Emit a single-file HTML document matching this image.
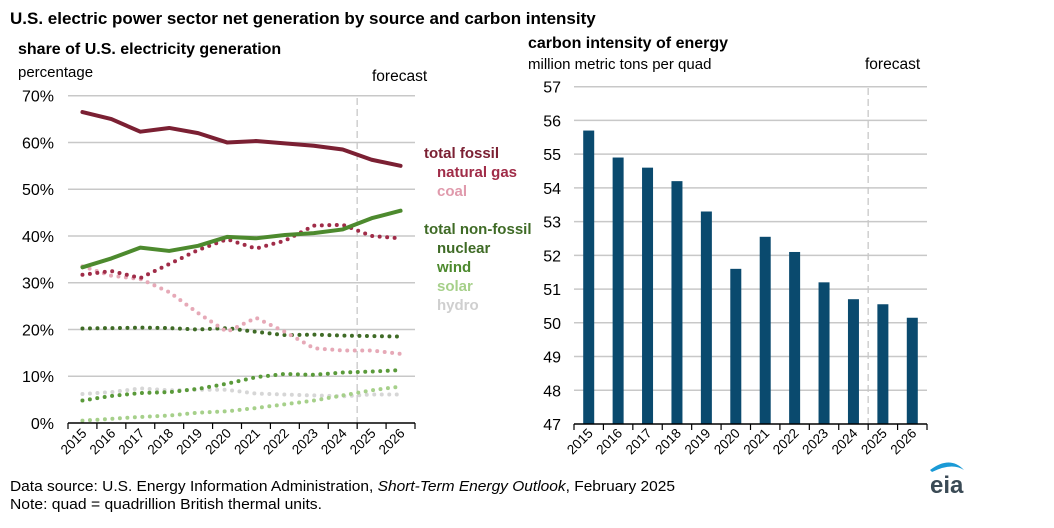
<!DOCTYPE html>
<html><head><meta charset="utf-8"><style>
body{margin:0;background:#fff;}
svg text{font-family:"Liberation Sans",Arial,sans-serif;}
</style></head><body>
<svg id="c" width="1054" height="523" xmlns="http://www.w3.org/2000/svg">
<text x="10" y="24" font-size="17" font-weight="bold" fill="#000">U.S. electric power sector net generation by source and carbon intensity</text>
<text x="18" y="54" font-size="16" font-weight="bold">share of U.S. electricity generation</text>
<text x="18" y="77" font-size="15">percentage</text>
<text x="528" y="48" font-size="16" font-weight="bold">carbon intensity of energy</text>
<text x="528" y="69" font-size="15">million metric tons per quad</text>
<text x="372" y="81" font-size="15.5">forecast</text>
<text x="865" y="69" font-size="15.5">forecast</text>
<g id="left"></g><g id="right"></g>
<text x="10" y="491" font-size="15" textLength="665" lengthAdjust="spacingAndGlyphs">Data source: U.S. Energy Information Administration, <tspan font-style="italic">Short-Term Energy Outlook</tspan>, February 2025</text>
<text x="10" y="509" font-size="15" textLength="312" lengthAdjust="spacingAndGlyphs">Note: quad = quadrillion British thermal units.</text>
<g>
<path d="M930 470 Q950 455 964 470 Q952 462 932 472 Z" fill="#1a9ad6"/>
<text x="930" y="493" font-size="24" font-weight="bold" fill="#3a4a55">eia</text>
</g>
</svg>
<script>
const years=["2015","2016","2017","2018","2019","2020","2021","2022","2023","2024","2025","2026"];
const leftTicks=[0,10,20,30,40,50,60,70];
const totalFossil=[66.5,65,62.3,63.1,62,60,60.3,59.8,59.3,58.5,56.3,55];
const naturalGas=[31.7,32.5,31,34,37,39.3,37.3,39,42.2,42.4,40,39.5];
const coal=[33.5,31.5,30.8,28,23.5,19.5,22.5,19.5,16,15.5,15.5,14.8];
const totalNonFossil=[33.3,35.2,37.5,36.8,37.9,39.8,39.5,40.2,40.6,41.4,43.8,45.4];
const nuclear=[20.2,20.3,20.4,20.3,20,20.3,19.5,18.8,18.9,18.7,18.6,18.5];
const wind=[4.8,5.8,6.4,6.6,7.3,8.4,9.8,10.5,10.3,10.8,11,11.3];
const solar=[0.5,0.9,1.3,1.6,2.2,2.5,3.2,4,4.8,5.9,7,7.8];
const hydro=[6.2,6.6,7.4,7,7.1,7.1,6.3,6.1,5.9,5.7,6.1,6.1];
const rightTicks=[47,48,49,50,51,52,53,54,55,56,57];
const carbonIntensity=[55.7,54.9,54.6,54.2,53.3,51.6,52.55,52.1,51.2,50.7,50.55,50.15];
const NS="http://www.w3.org/2000/svg";
function mk(p,t,a){const e=document.createElementNS(NS,t);for(const k in a)e.setAttribute(k,a[k]);p.appendChild(e);return e;}
// left
const L=document.getElementById('left');
const lx0=68,lx1=415,ly0=423,ly1=95.7;
const lbw=(lx1-lx0)/years.length;
const lx=i=>lx0+lbw*(i+0.5), ly=v=>ly0-(v/70)*(ly0-ly1);
leftTicks.forEach(t=>{
 if(t>0){const g=mk(L,'line',{x1:lx0,x2:lx1,y1:ly(t),y2:ly(t),stroke:'#c8c8c8','stroke-width':1.5});
 
 }
 const tx=mk(L,'text',{x:54,y:ly(t)+6,'font-size':16,'text-anchor':'end'});tx.textContent=t+'%';
 
 
});
const fl=mk(L,'line',{x1:lx0+lbw*10,x2:lx0+lbw*10,y1:98,y2:ly0,stroke:'#c8c8c8','stroke-width':1.3,'stroke-dasharray':'7,4'});


const series=[[hydro,'#d6d6d6',false,'hydro-line'],[solar,'#a6d08a',false,'solar-line'],[wind,'#5a9a3a',false,'wind-line'],[nuclear,'#3f6b26',false,'nuclear-line'],[coal,'#e6a9b7',false,'coal-line'],[naturalGas,'#a02c48',false,'natural-gas-line'],[totalNonFossil,'#4d8a2e',true,'total-non-fossil-line'],[totalFossil,'#7b2033',true,'total-fossil-line']];
series.forEach(([d,c,solid,n])=>{
 const p=mk(L,'path',{d:d.map((v,i)=>(i?'L':'M')+lx(i)+' '+ly(v)).join(''),fill:'none',stroke:c,'stroke-width':4,'stroke-linecap':'round','stroke-linejoin':'round','stroke-dasharray':solid?'none':'0,7.5'});
 
 
});
const ax=mk(L,'line',{x1:lx0,x2:lx1,y1:ly0,y2:ly0,stroke:'#000','stroke-width':1.5});


years.forEach((y,i)=>{
 const k=mk(L,'line',{x1:lx0+lbw*i,x2:lx0+lbw*i,y1:ly0,y2:ly0+6,stroke:'#000','stroke-width':1.2});
 
 
 const t=mk(L,'text',{x:lx(i)+5,y:434,'font-size':13.5,'text-anchor':'end',transform:`rotate(-45 ${lx(i)+5} 434)`});t.textContent=y;
 
 
});
mk(L,'line',{x1:lx1,x2:lx1,y1:ly0,y2:ly0+6,stroke:'#000','stroke-width':1.2});
const leg=[['total fossil',424,158,'#7b2033'],['natural gas',437,177,'#a02c48'],['coal',437,196,'#e09aac'],['total non-fossil',424,234,'#3f6b26'],['nuclear',437,253,'#3f6b26'],['wind',437,272,'#4d8a2e'],['solar',437,291,'#a6d08a'],['hydro',437,310,'#cfcfcf']];
leg.forEach(([s,x,y,c])=>{const t=mk(L,'text',{x:x,y:y,'font-size':15,'font-weight':'bold',fill:c});t.textContent=s;
 
 });
// right
const R=document.getElementById('right');
const rx0=574,rx1=927,ry0=424,ry1=86.7;
const rbw=(rx1-rx0)/years.length;
const rx=i=>rx0+rbw*(i+0.5), ry=v=>ry0-(v-47)/10*(ry0-ry1);
rightTicks.forEach(t=>{
 if(t>47){const g=mk(R,'line',{x1:rx0,x2:rx1,y1:ry(t),y2:ry(t),stroke:'#c8c8c8','stroke-width':1.5});
 
 }
 const tx=mk(R,'text',{x:561,y:ry(t)+6,'font-size':16,'text-anchor':'end'});tx.textContent=t;
 
 
});
const fr=mk(R,'line',{x1:rx0+rbw*10,x2:rx0+rbw*10,y1:88,y2:ry0,stroke:'#c8c8c8','stroke-width':1.3,'stroke-dasharray':'7,4'});


carbonIntensity.forEach((v,i)=>{
 const b=mk(R,'rect',{x:rx(i)-5.5,y:ry(v),width:11,height:ry0-ry(v),fill:'#0a4a6e'});
 
 
});
const ax2=mk(R,'line',{x1:rx0,x2:rx1,y1:ry0,y2:ry0,stroke:'#000','stroke-width':1.5});


years.forEach((y,i)=>{
 const k=mk(R,'line',{x1:rx0+rbw*i,x2:rx0+rbw*i,y1:ry0,y2:ry0+6,stroke:'#000','stroke-width':1.2});
 
 
 const t=mk(R,'text',{x:rx(i)+5,y:434,'font-size':13.5,'text-anchor':'end',transform:`rotate(-45 ${rx(i)+5} 434)`});t.textContent=y;
 
 
});
mk(R,'line',{x1:rx1,x2:rx1,y1:ry0,y2:ry0+6,stroke:'#000','stroke-width':1.2});
</script>
</body></html>
